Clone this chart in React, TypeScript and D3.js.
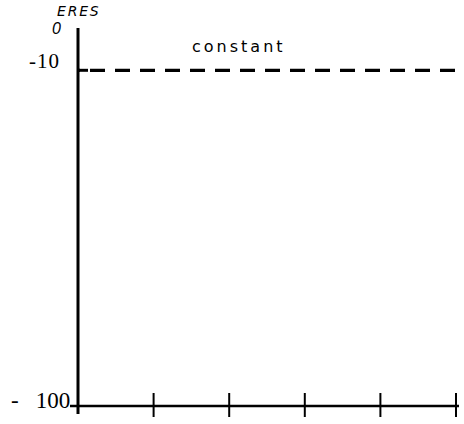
import React from "react";
import * as d3 from "d3";

const yTickValues = [0, -10, -100];
const yTickLabels = ["0", "-10", "- 100"];
const xTickValues = [0, 1, 2, 3, 4, 5];
const seriesName = "constant";
const constantValue = -10;
const yAxisTitle = "ERES";

export default function App() {
  const W = 464, H = 424;
  const x = d3.scaleLinear().domain([0, 5]).range([78, 456]);
  const y = d3.scaleLinear().domain([-100, 0]).range([406, 33]);
  const line = d3.line<number>().x((d) => x(d)).y(() => y(constantValue));
  const lineData = [0, 5.02];
  const [minus, num] = yTickLabels[2].split(" ");
  return (
    <svg width={W} height={H} style={{ position: "absolute", left: 0, top: 0, background: "#fff" }}>
      {/* y axis */}
      <line x1={x(0)} x2={x(0)} y1={28} y2={y(-100) + 8} stroke="#000" strokeWidth={3} />
      {/* x axis */}
      <line x1={x(0) - 8} x2={x(5) + 3} y1={y(-100)} y2={y(-100)} stroke="#000" strokeWidth={2.5} />
      {xTickValues.slice(1).map((t) => (
        <line key={t} x1={x(t)} x2={x(t)} y1={y(-100) - 13} y2={y(-100) + 11} stroke="#000" strokeWidth={2} />
      ))}
      {/* y tick at -10 */}
      <line x1={x(0)} x2={x(0) + 10} y1={y(-10)} y2={y(-10)} stroke="#000" strokeWidth={3} />
      {/* constant dashed line */}
      <path d={line(lineData) || ""} fill="none" stroke="#000" strokeWidth={3.2} strokeDasharray="15 10" strokeDashoffset={-12} />
      {/* tick labels */}
      <text x={52} y={34} fontFamily="Liberation Sans, sans-serif" fontStyle="italic" fontSize={16}>{yTickLabels[0]}</text>
      <text x={60} y={y(yTickValues[1]) - 2} textAnchor="end" fontFamily="Liberation Serif, serif" fontSize={21} letterSpacing={1}>{yTickLabels[1]}</text>
      <text x={11} y={y(yTickValues[2]) + 2} fontFamily="Liberation Serif, serif" fontSize={23}>
        <tspan>{minus}</tspan>
        <tspan dx={17}>{num}</tspan>
      </text>
      <text x={57} y={16} fontFamily="DejaVu Sans, sans-serif" fontStyle="italic" fontSize={14} letterSpacing={1.8}>{yAxisTitle}</text>
      <text x={192} y={52} fontFamily="DejaVu Sans, sans-serif" fontSize={16} letterSpacing={3}>{seriesName}</text>
    </svg>
  );
}
